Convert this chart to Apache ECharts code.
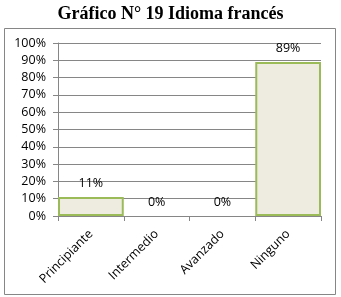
<!DOCTYPE html>
<html><head><meta charset="utf-8">
<script src="https://cdn.jsdelivr.net/npm/echarts@6/dist/echarts.min.js"></script>
<style>html,body{margin:0;padding:0;background:#fff}#c{width:341px;height:297px}</style>
</head><body><div id="c"></div>
<script>
const categories = ['Principiante', 'Intermedio', 'Avanzado', 'Ninguno'];
const values = [11, 0, 0, 89];
const yTicks = [0, 10, 20, 30, 40, 50, 60, 70, 80, 90, 100];
const title = 'Gráfico N° 19 Idioma francés';

const chart = echarts.init(document.getElementById('c'), null, {renderer: 'canvas'});
chart.setOption({
  animation: false,
  title: {text: title, left: 'center', top: 0,
    textStyle: {fontFamily: 'Liberation Serif', fontWeight: 'bold', fontSize: 18, color: '#000'}},
  graphic: [{type: 'rect', shape: {x: 4.5, y: 28.5, width: 331, height: 266},
    style: {fill: 'none', stroke: '#868686', lineWidth: 1}, z: -1}],
  grid: {left: 58, right: 20, top: 43, bottom: 81},
  xAxis: {type: 'category', data: categories,
    axisLine: {lineStyle: {color: '#868686'}},
    axisTick: {show: true, lineStyle: {color: '#868686'}, length: 5},
    axisLabel: {rotate: 45, fontFamily: 'Open Sans', fontSize: 12.5, color: '#000', margin: 16, interval: 0}},
  yAxis: {type: 'value', min: yTicks[0], max: yTicks[yTicks.length-1], interval: 10,
    axisLine: {show: true, lineStyle: {color: '#868686'}},
    axisTick: {show: true, length: 5, lineStyle: {color: '#868686'}},
    splitLine: {lineStyle: {color: '#868686'}},
    axisLabel: {formatter: '{value}%', fontFamily: 'Open Sans', fontSize: 12.5, color: '#000', margin: 12}},
  series: [{type: 'bar', barCategoryGap: '0%',
    data: values.map(v => ({value: v, itemStyle: {borderWidth: v === 0 ? 0 : 2}})),
    itemStyle: {color: '#EEECE1', borderColor: '#9BBB59', borderWidth: 2},
    label: {show: true, position: 'top', formatter: '{c}%', distance: 7,
      fontFamily: 'Open Sans', fontSize: 12.5, color: '#000'}}]
});
</script></body></html>
